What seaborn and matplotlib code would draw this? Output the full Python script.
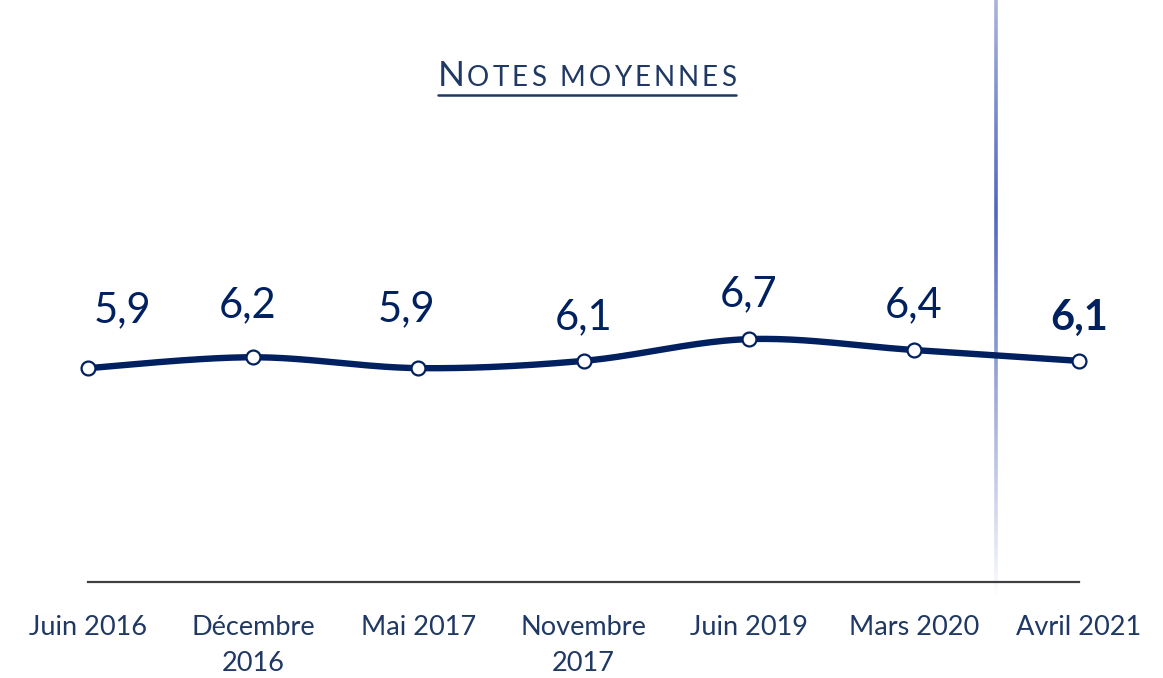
import numpy as np
import pandas as pd
import matplotlib
matplotlib.use("Agg")
import matplotlib.pyplot as plt
import seaborn as sns
from matplotlib.collections import LineCollection

categories = ["Juin 2016", "Décembre\n2016", "Mai 2017", "Novembre\n2017",
              "Juin 2019", "Mars 2020", "Avril 2021"]
values = [5.9, 6.2, 5.9, 6.1, 6.7, 6.4, 6.1]
value_labels = ["5,9", "6,2", "5,9", "6,1", "6,7", "6,4", "6,1"]
title_first, title_rest = "N", "OTES MOYENNES"

# label offsets (pixels) – styling only
label_dx = [34, -6, -12, 0, 0, 0, 0]
label_dy = [46, 40, 47, 32, 33, 33, 31]

NAVY = "#002060"
TXT = "#1f3864"
FONT = "Lato"

sns.set_theme(style="white")
plt.rcParams["font.family"] = [FONT, "DejaVu Sans"]

W, H = 1163, 678
fig = plt.figure(figsize=(W / 100, H / 100), dpi=100)
left, right, bottom_px = 88, 1079, 582
px_per_unit = 36.25
ymax = 10
top_px = bottom_px - ymax * px_per_unit
ax = fig.add_axes([left / W, (H - bottom_px) / H, (right - left) / W, (bottom_px - top_px) / H])

x = np.arange(len(values), dtype=float)
y = np.array(values, dtype=float)

# Excel-style smoothed curve (cubic Bezier with Catmull-Rom control points)
P = np.column_stack([x, y])
Pe = np.vstack([P[0], P, P[-1]])
curve = []
t = np.linspace(0, 1, 40)[:, None]
for i in range(len(P) - 1):
    p0, p1, p2, p3 = Pe[i], Pe[i + 1], Pe[i + 2], Pe[i + 3]
    c1 = p1 + (p2 - p0) / 6
    c2 = p2 - (p3 - p1) / 6
    seg = ((1 - t) ** 3) * p1 + 3 * ((1 - t) ** 2) * t * c1 + 3 * (1 - t) * t ** 2 * c2 + t ** 3 * p2
    curve.append(seg if i == 0 else seg[1:])
curve = np.vstack(curve)
df_curve = pd.DataFrame({"x": curve[:, 0], "y": curve[:, 1]})
df_pts = pd.DataFrame({"x": x, "y": y})

# vertical gradient separator
xs = 5.5
yy = np.linspace(-0.4, 16.5, 220)
segs = [[(xs, yy[i]), (xs, yy[i + 1])] for i in range(len(yy) - 1)]
mid = 10.2
alpha = np.clip(1 - np.abs((yy[:-1] - mid) / 10.6), 0, 1) ** 0.9
cols = [(0.22, 0.32, 0.70, a * 0.88) for a in alpha]
lc = LineCollection(segs, colors=cols, linewidths=2.6, clip_on=False, zorder=1)
ax.add_collection(lc)

sns.lineplot(data=df_curve, x="x", y="y", sort=False, ax=ax, color=NAVY,
             linewidth=4.6, zorder=3, legend=False)
ax.lines[-1].set_clip_on(False)
sns.scatterplot(data=df_pts, x="x", y="y", ax=ax, s=100, color="white",
                edgecolor=NAVY, linewidth=1.6, zorder=4, legend=False, clip_on=False)

for i, (xi, yi, lab) in enumerate(zip(x, y, value_labels)):
    ax.annotate(lab, (xi, yi), xytext=(label_dx[i] * 0.72, label_dy[i] * 0.72),
                textcoords="offset points", ha="center", va="baseline",
                fontsize=30, color=NAVY,
                fontweight="bold" if i == len(values) - 1 else "normal")

ax.set_xlim(0, 6)
ax.set_ylim(0, ymax)
ax.set_xticks(x)
ax.set_xticklabels(categories, fontsize=19.5, color=TXT, linespacing=1.55)
ax.tick_params(axis="x", length=0, pad=24)
ax.set_yticks([])
ax.set_xlabel("")
ax.set_ylabel("")
for s in ["top", "left", "right"]:
    ax.spines[s].set_visible(False)
ax.spines["bottom"].set_color("#404040")
ax.spines["bottom"].set_linewidth(1.6)
ax.set_facecolor("none")

# Title in small caps with letter spacing, underlined
fig.canvas.draw()
r = fig.canvas.get_renderer()
base_y = 1 - 86 / H
t1 = fig.text(438 / W, base_y, title_first, fontsize=25.5, color=TXT, va="baseline", ha="left")
cur_x = t1.get_window_extent(r).x1 + 2
target_right = 736
# measure natural width of rest
widths = []
for ch in title_rest:
    tmp = fig.text(0, 0, ch if ch != " " else "O", fontsize=20, va="baseline", ha="left")
    w = tmp.get_window_extent(r).width
    tmp.remove()
    widths.append(w if ch != " " else w * 0.35)
gap = (target_right - cur_x - sum(widths)) / (len(title_rest) - 1)
for ch, w in zip(title_rest, widths):
    if ch != " ":
        fig.text(cur_x / W, base_y, ch, fontsize=20, color=TXT, va="baseline", ha="left")
    cur_x += w + gap
fig.add_artist(plt.Line2D([438 / W, target_right / W], [1 - 95 / H, 1 - 95 / H],
                          color=TXT, linewidth=1.8))

fig.savefig("out.png", dpi=100, facecolor="white")
